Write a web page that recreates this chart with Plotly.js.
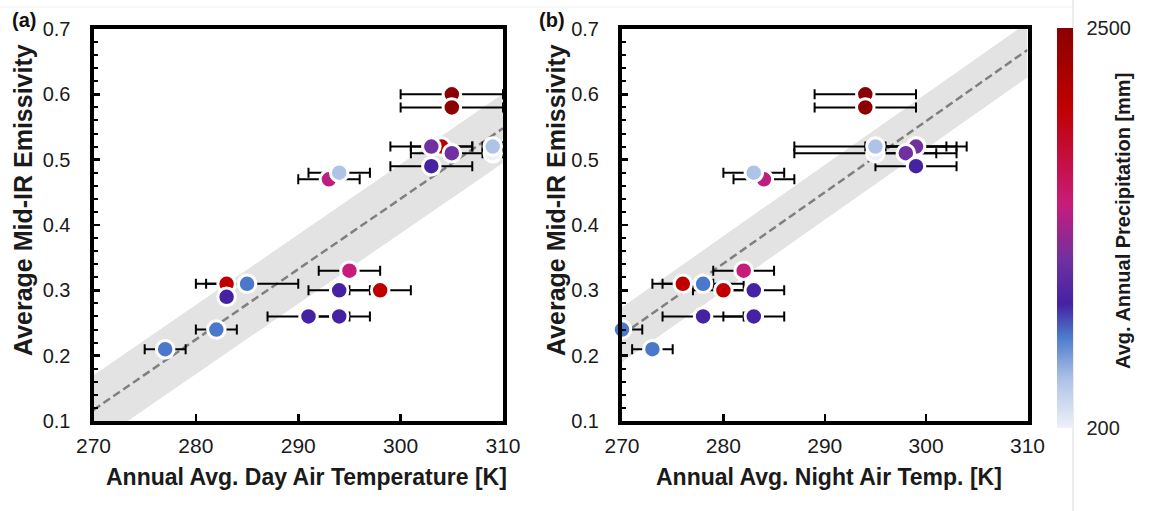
<!DOCTYPE html>
<html>
<head>
<meta charset="utf-8">
<script src="https://cdn.plot.ly/plotly-3.0.1.min.js"></script>
<style>html,body{margin:0;padding:0;background:#fff;}#chart{width:1150px;height:511px;}</style>
</head>
<body>
<div id="chart"></div>
<script>
// ---- data ----
const emissivity = [0.60, 0.58, 0.52, 0.52, 0.51, 0.49, 0.51, 0.52, 0.47, 0.48, 0.33, 0.31, 0.31, 0.29, 0.30, 0.30, 0.26, 0.26, 0.24, 0.21];
const dayTemp    = [305, 305, 304, 303, 305, 303, 309, 309, 293, 294, 295, 283, 285, 283, 294, 298, 291, 294, 282, 277];
const dayErr     = [5, 5, 3, 4, 4, 4, 1, 1, 3, 3, 3, 2, 5, 0, 3, 3, 4, 3, 2, 2];
const nightTemp  = [294, 294, 299, 299, 298, 299, 295, 295, 284, 283, 282, 276, 278, null, 283, 280, 278, 283, 270, 273];
const nightErr   = [5, 5, 3, 5, 3, 4, 8, 8, 3, 3, 3, 3, 4, null, 3, 3, 4, 3, 2, 2];
const precip     = [2500, 2500, 2040, 1166, 1166, 913, 200, 476, 1450, 476, 1490, 2040, 729, 913, 913, 2040, 913, 913, 729, 729];

// fit lines and bands
const fitX = [270, 310];
const fitDayY = [0.117, 0.548];
const fitNightY = [0.232, 0.668];
const bandDayHalf = 0.053;
const bandNightHalf = 0.042;

const xTicks = [270, 280, 290, 300, 310];
const yTicks = [0.1, 0.2, 0.3, 0.4, 0.5, 0.6, 0.7];
const cbTicks = [200, 2500];
const cbScale = [
  [0, '#EDF1F9'], [0.12, '#AFC3E8'], [0.23, '#4A79CB'], [0.31, '#4522A2'],
  [0.42, '#7030A0'], [0.56, '#C81C7A'], [0.8, '#C00000'], [1, '#8B0000']
];

const FONT = '"Liberation Sans", Arial, Helvetica, sans-serif';

function band(fx, fy, h, xa, ya) {
  return {
    x: [fx[0], fx[1], fx[1], fx[0], fx[0]],
    y: [fy[0] + h, fy[1] + h, fy[1] - h, fy[0] - h, fy[0] + h],
    xaxis: xa, yaxis: ya, mode: 'lines', fill: 'toself',
    fillcolor: '#E3E3E3', line: {width: 0, color: 'rgba(0,0,0,0)'},
    hoverinfo: 'skip', showlegend: false
  };
}
function fitLine(fx, fy, xa, ya) {
  return {
    x: fx, y: fy, xaxis: xa, yaxis: ya, mode: 'lines',
    line: {color: '#808080', width: 2.5, dash: '8px,4px'},
    hoverinfo: 'skip', showlegend: false
  };
}
function pts(xv, err, xa, ya) {
  return {
    x: xv, y: emissivity, xaxis: xa, yaxis: ya, mode: 'markers', type: 'scatter',
    error_x: {type: 'data', array: err, visible: true, color: '#000', thickness: 2, width: 5},
    marker: {color: precip, coloraxis: 'coloraxis', size: 17.5, line: {color: '#fff', width: 3}},
    showlegend: false, cliponaxis: false
  };
}

const traces = [
  band(fitX, fitDayY, bandDayHalf, 'x', 'y'),
  fitLine(fitX, fitDayY, 'x', 'y'),
  band(fitX, fitNightY, bandNightHalf, 'x2', 'y2'),
  fitLine(fitX, fitNightY, 'x2', 'y2'),
  pts(dayTemp, dayErr, 'x', 'y'),
  pts(nightTemp, nightErr, 'x2', 'y2')
];

const W = 1150, H = 511;
const yDom = [1 - 421 / H, 1 - 29 / H];

function xax(dom) {
  return {
    domain: dom, range: [270, 310], tickvals: xTicks, ticks: 'inside', ticklen: 7, tickwidth: 2.5,
    tickcolor: '#000', showline: true, linewidth: 4, linecolor: '#000', mirror: true,
    showgrid: false, zeroline: false, tickfont: {family: FONT, size: 21, color: '#1a1a1a'},
    ticklabelstandoff: 3, fixedrange: true
  };
}
function yax(anchor) {
  return {
    domain: yDom, range: [0.1, 0.7], tickvals: yTicks, tickformat: '.1f', ticks: 'inside', ticklen: 6,
    tickwidth: 2.5, tickcolor: '#000', minor: {dtick: 0.02, ticks: 'inside', ticklen: 4, tickwidth: 2, tickcolor: '#000'},
    showline: true, linewidth: 4, linecolor: '#000', mirror: true, showgrid: false, zeroline: false,
    tickfont: {family: FONT, size: 20, color: '#1a1a1a'}, ticklabelstandoff: 15, anchor: anchor,
    fixedrange: true
  };
}

const titleFont = {family: FONT, size: 23, color: '#1a1a1a', weight: 'bold'};
const yTitleFont = {family: FONT, size: 25, color: '#1a1a1a', weight: 'bold'};
function ann(text, px, py, angle, font, xanchor) {
  return {text: text, xref: 'paper', yref: 'paper', x: px / W, y: 1 - py / H,
    xanchor: xanchor || 'center', yanchor: 'middle', textangle: angle, showarrow: false, font: font};
}

const layout = {
  width: W, height: H, margin: {l: 0, r: 0, t: 0, b: 0},
  paper_bgcolor: '#fff', plot_bgcolor: '#fff',
  font: {family: FONT, color: '#222'},
  xaxis: Object.assign(xax([93.5 / W, 503 / W]), {anchor: 'y'}),
  yaxis: yax('x'),
  xaxis2: Object.assign(xax([622 / W, 1027.5 / W]), {anchor: 'y2'}),
  yaxis2: yax('x2'),
  coloraxis: {
    cmin: 200, cmax: 2500, colorscale: cbScale,
    colorbar: {
      thickness: 16, thicknessmode: 'pixels', len: 400, lenmode: 'pixels',
      x: 1057 / W, xanchor: 'left', xpad: 0, y: 1 - 228 / H, yanchor: 'middle', ypad: 0,
      outlinewidth: 0, tickvals: cbTicks, ticks: 'outside', ticklen: 10, tickcolor: 'rgba(0,0,0,0)',
      tickfont: {family: FONT, size: 20, color: '#222'}
    }
  },
  shapes: [
    {type: 'line', xref: 'paper', yref: 'paper', x0: 1073 / W, x1: 1073 / W, y0: 0, y1: 1, line: {color: '#d9d9d9', width: 1}, layer: 'below'},
    {type: 'line', xref: 'paper', yref: 'paper', x0: 0, x1: 1073 / W, y0: 1 - 7 / H, y1: 1 - 7 / H, line: {color: '#efefef', width: 1}, layer: 'below'}
  ],
  annotations: [
    ann('(a)', 10, 20, 0, {family: FONT, size: 20, color: '#111', weight: 'bold'}, 'left'),
    ann('(b)', 537, 20, 0, {family: FONT, size: 20, color: '#111', weight: 'bold'}, 'left'),
    ann('Annual Avg. Day Air Temperature [K]', 306, 477, 0, titleFont),
    ann('Annual Avg. Night Air Temp. [K]', 829, 477, 0, titleFont),
    ann('Average Mid-IR Emissivity', 23, 200, -90, yTitleFont),
    ann('Average Mid-IR Emissivity', 556, 200, -90, yTitleFont),
    ann('Avg. Annual Precipitation [mm]', 1123, 221, -90, {family: FONT, size: 20, color: '#1a1a1a', weight: 'bold'})
  ]
};

Plotly.newPlot('chart', traces, layout, {displayModeBar: false, staticPlot: true});
</script>
</body>
</html>
